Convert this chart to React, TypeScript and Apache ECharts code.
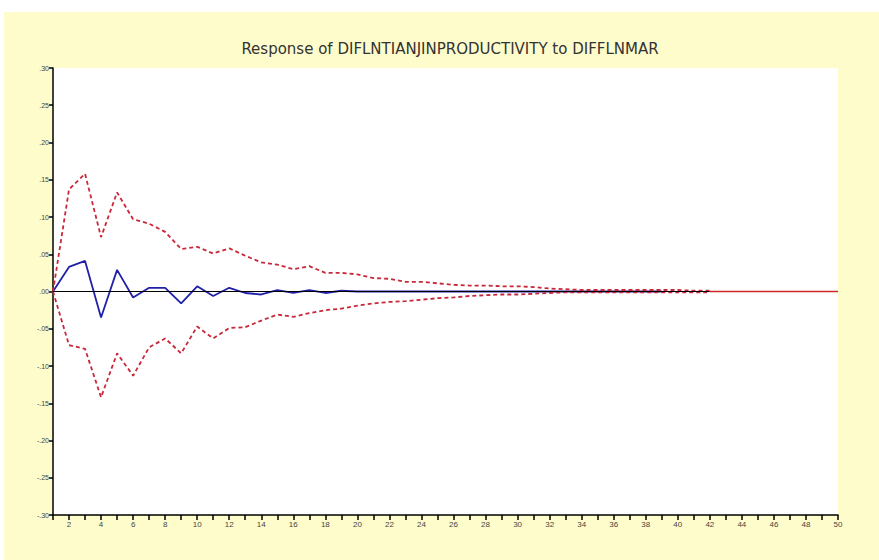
import React, { useEffect, useRef } from "react";
import * as echarts from "echarts";

const titleText = "Response of DIFLNTIANJINPRODUCTIVITY to DIFFLNMAR";

// impulse response (periods 1..39)
const response = [
  0, 0.033, 0.041, -0.035, 0.029, -0.008, 0.005, 0.005, -0.016, 0.007,
  -0.006, 0.005, -0.002, -0.004, 0.002, -0.002, 0.002, -0.002, 0.001, 0,
  0, 0, 0, 0, 0, 0, 0, 0, 0, 0,
  0, 0, 0, 0, 0, 0, 0, 0, 0,
];

// +/- 2 S.E. bands (periods 1..42)
const upperBand = [
  0, 0.137, 0.158, 0.073, 0.133, 0.097, 0.091, 0.08, 0.057, 0.06,
  0.051, 0.058, 0.048, 0.039, 0.036, 0.03, 0.034, 0.025, 0.025, 0.023,
  0.018, 0.017, 0.013, 0.013, 0.011, 0.009, 0.008, 0.008, 0.007, 0.007,
  0.006, 0.004, 0.003, 0.002, 0.002, 0.002, 0.002, 0.002, 0.002, 0.002,
  0.001, 0.001,
];
const lowerBand = [
  0, -0.072, -0.077, -0.142, -0.083, -0.113, -0.075, -0.063, -0.083, -0.047,
  -0.063, -0.049, -0.048, -0.039, -0.031, -0.034, -0.029, -0.025, -0.023, -0.019,
  -0.016, -0.014, -0.013, -0.011, -0.009, -0.008, -0.006, -0.005, -0.004, -0.004,
  -0.003, -0.002, -0.001, -0.001, -0.001, -0.001, -0.001, -0.001, -0.001, -0.001,
  -0.001, -0.001,
];

const xMin = 1;
const xMax = 50;
const yMin = -0.3;
const yMax = 0.3;
const yStep = 0.05;

const toPairs = (arr: number[]) => arr.map((v, i) => [i + 1, v]);

const fmtY = (v: number) => {
  const s = v.toFixed(2);
  return s.replace("0.", ".");
};

export default function App() {
  const ref = useRef<HTMLDivElement>(null);
  useEffect(() => {
    if (!ref.current) return;
    const chart = echarts.init(ref.current, null, { renderer: "svg" });
    const red = "#C8283A";
    const blue = "#2020A8";
    const bandEnd = upperBand.length;
    chart.setOption({
      animation: false,
      backgroundColor: "#ffffff",
      graphic: [
        {
          type: "rect",
          z: -10,
          silent: true,
          shape: { x: 4, y: 12, width: 875, height: 548 },
          style: { fill: "#FEFCCB" },
        },
      ],
      title: {
        text: titleText,
        left: 445,
        textAlign: "center",
        top: 36,
        textStyle: {
          fontFamily: "DejaVu Sans, Verdana, sans-serif",
          fontSize: 15,
          fontWeight: "normal",
          color: "#333333",
        },
      },
      grid: {
        left: 53,
        right: 41,
        top: 68,
        bottom: 45,
        show: true,
        backgroundColor: "#ffffff",
        borderWidth: 0,
      },
      xAxis: {
        type: "value",
        min: xMin,
        max: xMax,
        interval: 1,
        splitLine: { show: false },
        axisLine: { onZero: false, lineStyle: { color: "#000", width: 1.5 } },
        axisTick: { show: true, length: 5, lineStyle: { color: "#000", width: 1.5 } },
        axisLabel: {
          fontSize: 8,
          color: "#444",
          fontFamily: "Liberation Sans, Arial, sans-serif",
          margin: 5,
          formatter: (v: number) => (v % 2 === 0 ? String(v) : ""),
        },
      },
      yAxis: {
        type: "value",
        min: yMin,
        max: yMax,
        interval: yStep,
        splitLine: { show: false },
        axisLine: { show: true, onZero: false, lineStyle: { color: "#000", width: 1.5 } },
        axisTick: { show: true, length: 4, lineStyle: { color: "#000", width: 1.5 } },
        axisLabel: {
          fontSize: 7,
          color: "#444",
          fontFamily: "Liberation Sans, Arial, sans-serif",
          margin: 4,
          formatter: (v: number) => fmtY(v),
        },
      },
      series: [
        {
          name: "zero",
          type: "line",
          data: [],
          silent: true,
          markLine: {
            silent: true,
            symbol: "none",
            label: { show: false },
            data: [
              [
                { coord: [xMin, 0], lineStyle: { color: "#000000", width: 1.2, type: "solid" } },
                { coord: [bandEnd, 0] },
              ],
              [
                { coord: [bandEnd, 0], lineStyle: { color: "#D02828", width: 1.4, type: "solid" } },
                { coord: [xMax, 0] },
              ],
            ],
          },
          z: 1,
        },
        {
          name: "response",
          type: "line",
          data: toPairs(response),
          symbol: "none",
          lineStyle: { color: blue, width: 1.8 },
          z: 3,
        },
        {
          name: "upper",
          type: "line",
          data: toPairs(upperBand),
          symbol: "none",
          lineStyle: { color: red, width: 1.8, type: [4, 3] },
          z: 4,
        },
        {
          name: "lower",
          type: "line",
          data: toPairs(lowerBand),
          symbol: "none",
          lineStyle: { color: red, width: 1.8, type: [4, 3] },
          z: 4,
        },
      ],
    });
    return () => chart.dispose();
  }, []);
  return (
    <div
      ref={ref}
      style={{ position: "fixed", left: 0, top: 0, width: 879, height: 560 }}
    />
  );
}
